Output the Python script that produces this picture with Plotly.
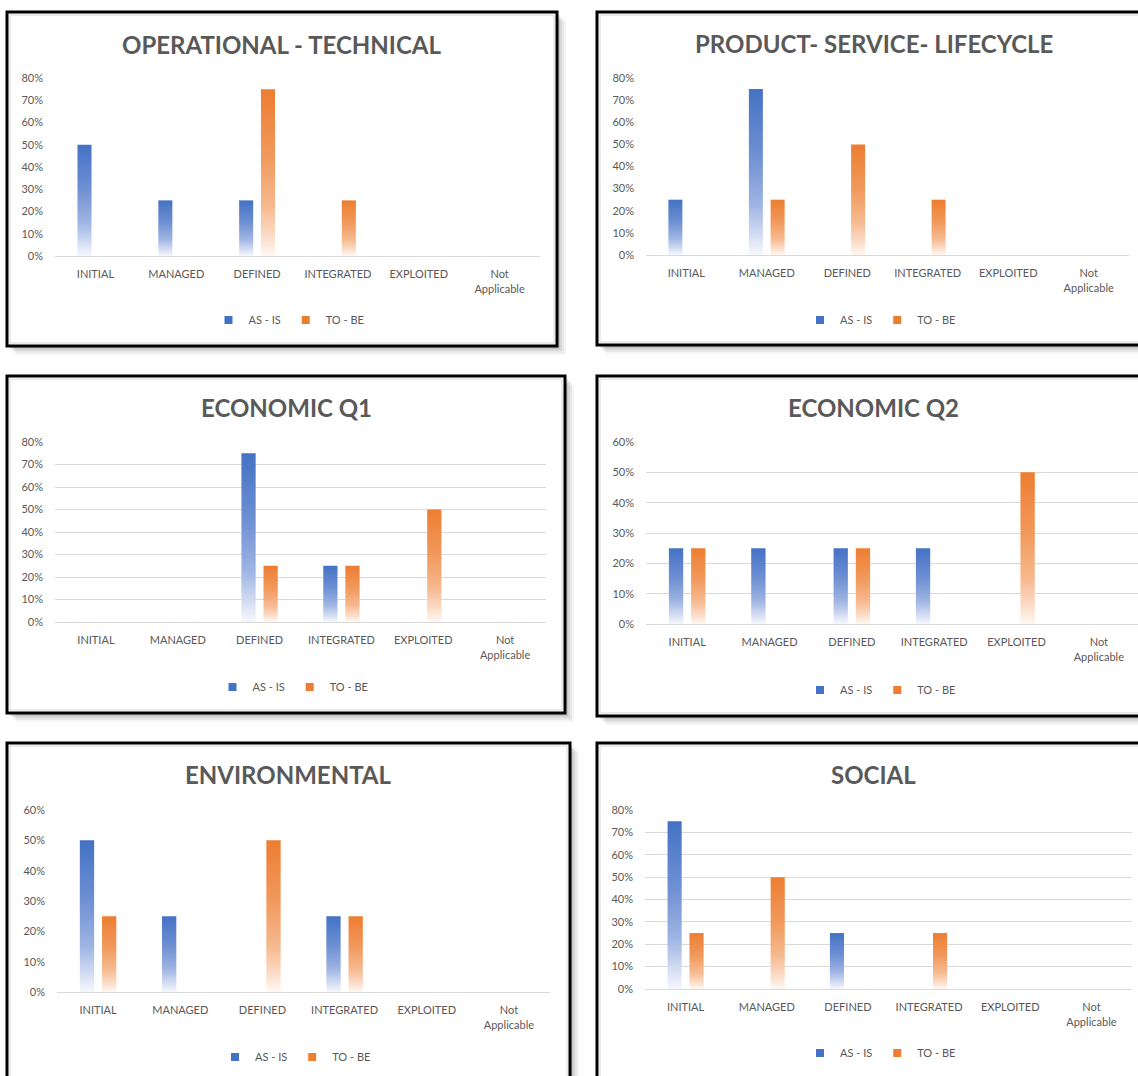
import plotly.graph_objects as go

W, H = 1138, 1076

# ---- data -------------------------------------------------------------
CATEGORIES = ["INITIAL", "MANAGED", "DEFINED", "INTEGRATED", "EXPLOITED", "Not Applicable"]
TICK_TEXT = ["INITIAL", "MANAGED", "DEFINED", "INTEGRATED", "EXPLOITED", "Not<br>Applicable"]
SERIES = ["AS - IS", "TO - BE"]

TITLES = [
    "OPERATIONAL - TECHNICAL",
    "PRODUCT- SERVICE- LIFECYCLE",
    "ECONOMIC Q1",
    "ECONOMIC Q2",
    "ENVIRONMENTAL",
    "SOCIAL",
]

operational_as_is = [0.50, 0.25, 0.25, 0.00, 0.00, 0.00]
operational_to_be = [0.00, 0.00, 0.75, 0.25, 0.00, 0.00]

product_as_is = [0.25, 0.75, 0.00, 0.00, 0.00, 0.00]
product_to_be = [0.00, 0.25, 0.50, 0.25, 0.00, 0.00]

economic_q1_as_is = [0.00, 0.00, 0.75, 0.25, 0.00, 0.00]
economic_q1_to_be = [0.00, 0.00, 0.25, 0.25, 0.50, 0.00]

economic_q2_as_is = [0.25, 0.25, 0.25, 0.25, 0.00, 0.00]
economic_q2_to_be = [0.25, 0.00, 0.25, 0.00, 0.50, 0.00]

environmental_as_is = [0.50, 0.25, 0.00, 0.25, 0.00, 0.00]
environmental_to_be = [0.25, 0.00, 0.50, 0.25, 0.00, 0.00]

social_as_is = [0.75, 0.00, 0.25, 0.00, 0.00, 0.00]
social_to_be = [0.25, 0.50, 0.00, 0.25, 0.00, 0.00]

PANEL_DATA = [
    (operational_as_is, operational_to_be),
    (product_as_is, product_to_be),
    (economic_q1_as_is, economic_q1_to_be),
    (economic_q2_as_is, economic_q2_to_be),
    (environmental_as_is, environmental_to_be),
    (social_as_is, social_to_be),
]
Y_MAX = [0.8, 0.8, 0.8, 0.6, 0.6, 0.8]

# ---- layout / style ---------------------------------------------------
# frame box, plot area (pixels), whether gridlines are shown, title and legend rows
PANELS = [
    dict(box=(7, 12, 557, 346), plot=(55, 78, 540, 256), grid=False, title_y=44, legend_y=320),
    dict(box=(597, 12, 1150, 345), plot=(646, 78, 1129, 255), grid=False, title_y=43, legend_y=320),
    dict(box=(7, 376, 565, 713), plot=(55, 442, 546, 622), grid=True, title_y=407, legend_y=687),
    dict(box=(597, 376, 1150, 716), plot=(646, 442, 1140, 624), grid=True, title_y=407, legend_y=690),
    dict(box=(7, 743, 570, 1090), plot=(57, 810, 550, 992), grid=False, title_y=774, legend_y=1057),
    dict(box=(597, 743, 1150, 1090), plot=(645, 810, 1132, 989), grid=True, title_y=774, legend_y=1053),
]

COLORS = ["#4472C4", "#ED7D31"]
GRADIENTS = [
    [[0.0, "#f6f8fd"], [0.12, "#d3ddf2"], [0.3, "#9fb5e3"], [0.6, "#6f90d3"], [1.0, "#4472C4"]],
    [[0.0, "#fff8f3"], [0.12, "#fbdcc7"], [0.3, "#f6b98f"], [0.6, "#f1995c"], [1.0, "#ED7D31"]],
]
TEXT_COLOR = "#595959"
GRID_COLOR = "#d9d9d9"
FONT = "Lato, Open Sans, sans-serif"

BAR_OFFSET = 0.135   # bar centre distance from category centre (category units)
BAR_HALF = 0.087     # half bar width (category units)


def fx(px):
    return px / W


def fy(py):
    return 1 - py / H


fig = go.Figure()
shapes = []
annotations = []
layout_axes = {}

for k, (panel, title, (as_is, to_be), ymax) in enumerate(zip(PANELS, TITLES, PANEL_DATA, Y_MAX)):
    n = "" if k == 0 else str(k + 1)
    xa, ya = "x" + n, "y" + n
    leg = "legend" + n

    bx0, by0, bx1, by1 = panel["box"]
    # soft drop shadow behind the frame
    for d, a in [(9, 0.04), (7, 0.05), (5, 0.07), (3, 0.09)]:
        shapes.append(dict(type="rect", xref="paper", yref="paper",
                           x0=fx(bx0 + d), x1=fx(bx1 + d), y0=fy(by0 + d), y1=fy(by1 + d),
                           line=dict(width=0), fillcolor=f"rgba(0,0,0,{a})", layer="below"))
    # white chart frame with a black border and thin inner rim
    shapes.append(dict(type="rect", xref="paper", yref="paper",
                       x0=fx(bx0), x1=fx(bx1), y0=fy(by0), y1=fy(by1),
                       line=dict(color="black", width=3), fillcolor="white", layer="below"))
    shapes.append(dict(type="rect", xref="paper", yref="paper",
                       x0=fx(bx0 + 3), x1=fx(bx1 - 3), y0=fy(by0 + 3), y1=fy(by1 - 3),
                       line=dict(color="#d9d9d9", width=1), fillcolor="rgba(0,0,0,0)", layer="below"))

    px0, py0, px1, py1 = panel["plot"]
    cat_px = (px1 - px0) / len(CATEGORIES)
    right = min(px1, W)
    x_range = [-0.5, -0.5 + (right - px0) / cat_px]

    layout_axes["xaxis" + n] = dict(
        domain=[fx(px0), fx(right)], range=x_range, anchor=ya,
        tickmode="array", tickvals=list(range(len(CATEGORIES))), ticktext=TICK_TEXT,
        showgrid=False, zeroline=False, showline=True, linecolor=GRID_COLOR, linewidth=1,
        ticks="", ticklabelstandoff=8,
        tickfont=dict(family=FONT, size=11, color=TEXT_COLOR), fixedrange=True,
    )
    layout_axes["yaxis" + n] = dict(
        domain=[fy(py1), fy(py0)], range=[0, ymax], anchor=xa,
        dtick=0.1, tickformat=".0%", showgrid=panel["grid"], gridcolor=GRID_COLOR,
        gridwidth=1, zeroline=False, showline=False, ticks="", ticklabelstandoff=11,
        tickfont=dict(family=FONT, size=11, color=TEXT_COLOR), fixedrange=True,
    )

    # bars: one filled outline per non-zero value with a vertical colour fade
    for s, values in enumerate((as_is, to_be)):
        sign = -1 if s == 0 else 1
        for i, v in enumerate(values):
            if v <= 0:
                continue
            c = i + sign * BAR_OFFSET
            fig.add_trace(go.Scatter(
                x=[c - BAR_HALF, c - BAR_HALF, c + BAR_HALF, c + BAR_HALF, c - BAR_HALF],
                y=[0, v, v, 0, 0],
                mode="lines", fill="toself", line=dict(width=0),
                fillgradient=dict(type="vertical", colorscale=GRADIENTS[s]),
                name=SERIES[s], showlegend=False,
                hovertemplate=f"{CATEGORIES[i]}: {v:.0%}<extra>{SERIES[s]}</extra>",
                xaxis=xa, yaxis=ya,
            ))
        # legend entry
        fig.add_trace(go.Scatter(
            x=[None], y=[None], mode="markers", name=SERIES[s],
            marker=dict(symbol="square", size=8, color=COLORS[s]),
            legend=leg, xaxis=xa, yaxis=ya,
        ))

    cx = (bx0 + min(bx1, W + 12)) / 2
    annotations.append(dict(
        text=f"<b>{title}</b>", xref="paper", yref="paper",
        x=fx(cx), y=fy(panel["title_y"]), xanchor="center", yanchor="middle",
        showarrow=False, font=dict(family=FONT, size=24, color=TEXT_COLOR),
    ))
    layout_axes[leg] = dict(
        orientation="h", x=fx(cx + 7), y=fy(panel["legend_y"]),
        xanchor="center", yanchor="middle", bgcolor="rgba(0,0,0,0)",
        font=dict(family=FONT, size=11, color=TEXT_COLOR),
        itemwidth=30, traceorder="normal",
    )

fig.update_layout(
    width=W, height=H, autosize=False,
    margin=dict(l=0, r=0, t=0, b=0, pad=0, autoexpand=False),
    paper_bgcolor="white", plot_bgcolor="rgba(0,0,0,0)",
    shapes=shapes, annotations=annotations,
    **layout_axes,
)

fig.write_html("out.html", config={"displayModeBar": False})
